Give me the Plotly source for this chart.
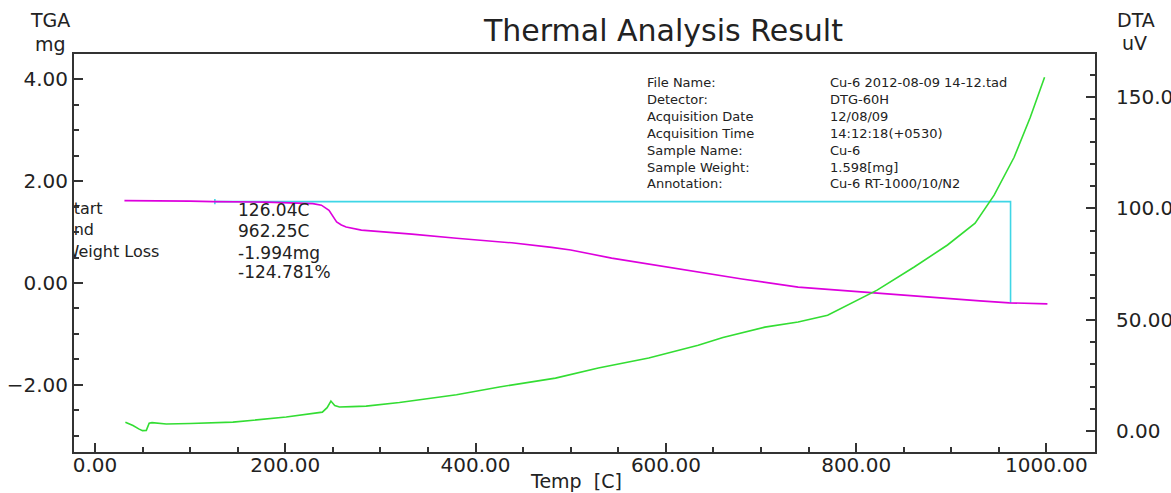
import plotly.graph_objects as go

# ---------------- data ----------------
tga_temp = [31, 60, 100, 124, 180, 229, 238, 246, 250, 254, 259, 264, 280, 320, 333,
            380, 438, 480, 500, 543, 580, 613, 634, 680, 739, 780, 820, 860, 896, 930, 961, 1001]
tga_mg = [1.62, 1.62, 1.61, 1.60, 1.59, 1.56, 1.53, 1.43, 1.32, 1.20, 1.14, 1.10, 1.04, 0.97, 0.96,
          0.88, 0.79, 0.70, 0.65, 0.49, 0.38, 0.29, 0.22, 0.08, -0.08, -0.14, -0.20, -0.25, -0.31, -0.35, -0.39, -0.41]

dta_temp = [32, 40, 46, 50, 54, 57, 60, 75, 100, 145, 201, 225, 239, 244, 248, 252, 257, 270, 285,
            320, 380, 425, 484, 529, 582, 634, 660, 704, 739, 770, 802, 822, 861, 896, 925, 945, 966, 983, 998]
dta_uv = [4.0, 2.5, 1.0, 0.2, 0.3, 3.5, 3.8, 3.2, 3.4, 4.0, 6.3, 7.5, 8.5, 10.5, 13.5, 11.5, 10.8, 11.0, 11.2,
          12.8, 16.3, 19.8, 23.8, 28.3, 32.8, 38.6, 42.0, 46.7, 49.0, 52.0, 58.8, 63.3, 73.7, 83.6, 93.4, 106, 123, 141, 159]

start_temp = 126.04
end_temp = 962.25
start_mg = 1.600
end_mg = -0.394

result_labels = ["Start", "End", "Weight Loss"]
result_label_y = [1.436, 1.02, 0.59]
result_values = ["126.04C", "962.25C", "-1.994mg", "-124.781%"]

info_keys = ["File Name:", "Detector:", "Acquisition Date", "Acquisition Time",
             "Sample Name:", "Sample Weight:", "Annotation:"]
info_vals = ["Cu-6 2012-08-09 14-12.tad", "DTG-60H", "12/08/09", "14:12:18(+0530)",
             "Cu-6", "1.598[mg]", "Cu-6 RT-1000/10/N2"]

x_ticks = [0, 200, 400, 600, 800, 1000]
y_ticks = [-2, 0, 2, 4]
y2_ticks = [0, 50, 100, 150]

FONT = "DejaVu Sans"
TXT = "#222222"
AX = "#333333"

# pixel geometry of the plotting frame
W, H = 1171, 493
L, R, T, B = 74, 1095, 54, 452


def px(xp):
    return (xp - L) / (R - L)


def py(yp):
    return (B - yp) / (B - T)


fig = go.Figure()

# analysis (cyan) lines
fig.add_trace(go.Scatter(x=[start_temp, end_temp, end_temp], y=[start_mg, start_mg, end_mg],
                         mode="lines", line=dict(color="#3fd6e6", width=1.6), showlegend=False,
                         hoverinfo="skip"))
fig.add_trace(go.Scatter(x=[start_temp, start_temp], y=[start_mg - 0.05, start_mg + 0.05],
                         mode="lines", line=dict(color="#3fd6e6", width=1.6), showlegend=False,
                         hoverinfo="skip"))

# TGA
fig.add_trace(go.Scatter(x=tga_temp, y=tga_mg, mode="lines", name="TGA",
                         line=dict(color="#dd00dd", width=1.6), showlegend=False))
# DTA
fig.add_trace(go.Scatter(x=dta_temp, y=dta_uv, mode="lines", name="DTA", yaxis="y2",
                         line=dict(color="#33dd33", width=1.6), showlegend=False))

# clipped result labels
fig.add_trace(go.Scatter(x=[-33] * len(result_labels), y=result_label_y, mode="text",
                         text=result_labels, textposition="middle right", cliponaxis=True,
                         textfont=dict(family=FONT, size=16, color=TXT), showlegend=False,
                         hoverinfo="skip"))

ann = []
# result values
for i, (v, yp) in enumerate(zip(result_values, [210, 231, 253, 272])):
    ann.append(dict(text=v, x=px(236), y=py(yp), xref="paper", yref="paper",
                    xanchor="left", yanchor="middle", showarrow=False,
                    font=dict(family=FONT, size=17, color=TXT)))
# info block (two multi-line columns)
ann.append(dict(text="<br>".join(info_keys), x=px(645), y=py(73), xref="paper", yref="paper",
                xanchor="left", yanchor="top", align="left", showarrow=False,
                font=dict(family=FONT, size=13, color=TXT)))
ann.append(dict(text="<br>".join(info_vals), x=px(828), y=py(73), xref="paper", yref="paper",
                xanchor="left", yanchor="top", align="left", showarrow=False,
                font=dict(family=FONT, size=13, color=TXT)))
# title and axis headers
ann.append(dict(text="Thermal Analysis Result", x=px(663), y=py(31), xref="paper", yref="paper",
                xanchor="center", yanchor="middle", showarrow=False,
                font=dict(family=FONT, size=30, color=TXT)))
ann.append(dict(text="TGA", x=px(50), y=py(20), xref="paper", yref="paper",
                xanchor="center", yanchor="middle", showarrow=False,
                font=dict(family=FONT, size=19, color=TXT)))
ann.append(dict(text="mg", x=px(50), y=py(44), xref="paper", yref="paper",
                xanchor="center", yanchor="middle", showarrow=False,
                font=dict(family=FONT, size=19, color=TXT)))
ann.append(dict(text="DTA", x=px(1136), y=py(20), xref="paper", yref="paper",
                xanchor="center", yanchor="middle", showarrow=False,
                font=dict(family=FONT, size=19, color=TXT)))
ann.append(dict(text="uV", x=px(1134), y=py(43), xref="paper", yref="paper",
                xanchor="center", yanchor="middle", showarrow=False,
                font=dict(family=FONT, size=19, color=TXT)))
ann.append(dict(text="Temp  [C]", x=px(576), y=py(481), xref="paper", yref="paper",
                xanchor="center", yanchor="middle", showarrow=False,
                font=dict(family=FONT, size=19, color=TXT)))

tickfont = dict(family=FONT, size=20, color=TXT)

fig.update_layout(
    width=W, height=H, autosize=False,
    margin=dict(l=L, r=W - R, t=T, b=H - B, pad=0),
    paper_bgcolor="white", plot_bgcolor="white",
    annotations=ann,
    xaxis=dict(range=[-22, 1051], tickvals=x_ticks, tickformat=".2f", ticks="inside",
               ticklen=9, tickwidth=1.5, tickcolor=AX, showline=True, linecolor=AX, linewidth=2,
               mirror=True, showgrid=False, zeroline=False, tickfont=tickfont, automargin=False,
               ticklabelstandoff=-6,
               minor=dict(dtick=50, tick0=0, ticks="inside", ticklen=5, tickcolor=AX, showgrid=False)),
    yaxis=dict(range=[-3.32, 4.50], tickvals=y_ticks, tickformat=".2f", ticks="inside",
               ticklen=9, tickwidth=1.5, tickcolor=AX, showline=True, linecolor=AX, linewidth=2,
               showgrid=False, zeroline=False, tickfont=tickfont, automargin=False,
               minor=dict(dtick=0.5, tick0=0, ticks="inside", ticklen=5, tickcolor=AX, showgrid=False)),
    yaxis2=dict(range=[-9.4, 169.4], tickvals=y2_ticks, tickformat=".2f", ticks="inside",
                overlaying="y", side="right", ticklen=9, tickwidth=1.5, tickcolor=AX,
                showline=True, linecolor=AX, linewidth=2, showgrid=False, zeroline=False,
                tickfont=tickfont, automargin=False, ticklabelstandoff=15,
                minor=dict(dtick=10, tick0=0, ticks="inside", ticklen=5, tickcolor=AX, showgrid=False)),
)

fig.write_html("out.html", config={"displayModeBar": False},
               post_script="document.body.style.margin='0';")
